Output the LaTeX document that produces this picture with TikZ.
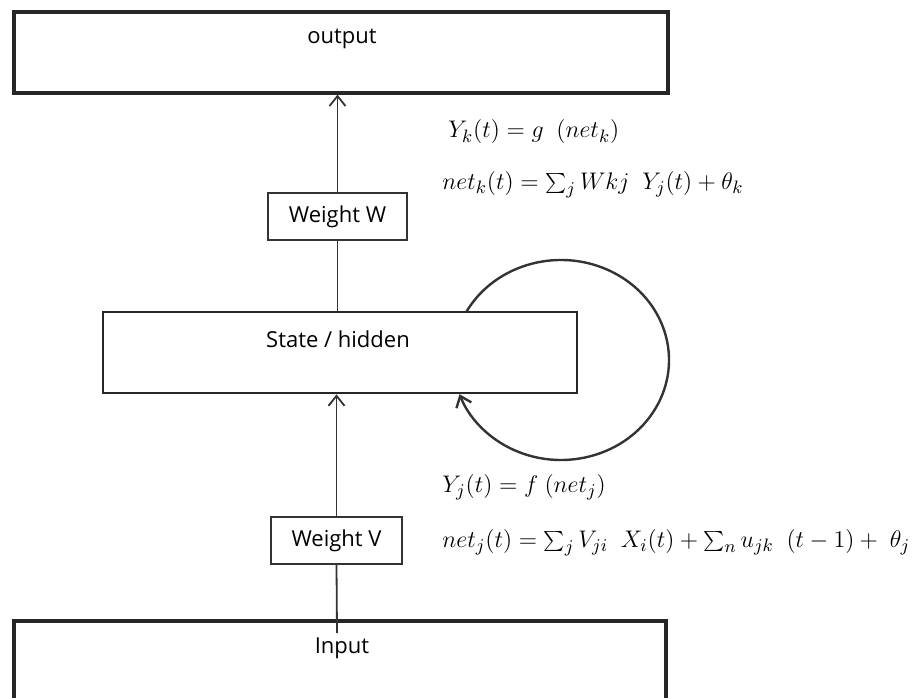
\documentclass[tikz,border=0pt]{standalone}
\usepackage{fontspec}
\setmainfont{Open Sans}
\usetikzlibrary{arrows.meta, positioning, calc}

\begin{document}
\begin{tikzpicture}[x=0.5pt, y=0.5pt,
    layer/.style={draw=black!85, line width=1.4pt, minimum height=40.5pt, inner sep=0pt},
    weight/.style={draw=black!80, line width=0.9pt, minimum height=23.5pt, inner sep=0pt, font=\fontsize{11}{13}\selectfont},
    lbl/.style={inner sep=0pt, font=\fontsize{11}{13}\selectfont},
    eq/.style={anchor=west, inner sep=0pt, font=\fontsize{12.3}{14}\selectfont},
    conn/.style={draw=black!80, line width=0.9pt},
    >={Straight Barb[length=5pt,width=8pt]}]
\useasboundingbox (0,0) rectangle (922,697);

% layers
\node[layer, line width=1.6pt, minimum width=327pt] (output) at (341,644.5) {};
\node[lbl] (outtext) at (342,658) {output};

\node[layer, minimum width=237pt] (state) at (340,344.5) {};
\node[lbl] (statetext) at (338,358) {State / hidden};

\node[layer, line width=1.6pt, minimum width=326pt, minimum height=100pt] (input) at (340,-24) {};
\node[lbl] (intext) at (342,49) {Input};

% weights
\node[weight, minimum width=69.5pt] (ww) at (337.5,480.5) {Weight W};
\node[weight, minimum width=65.5pt] (wv) at (336.5,156.5) {Weight V};

% connections
\coordinate (instart) at (337,64);
\draw[conn] (instart) -- (wv.south);
\draw[conn, ->] (wv.north) -- (wv.north |- state.south);
\draw[conn] (ww.south |- state.north) -- (ww.south);
\draw[conn, ->] (ww.north) -- (ww.north |- output.south);

% recurrent loop
\coordinate (loopc) at (561,337);
\draw[conn, line width=1.2pt, ->] ($(loopc)+(151:54pt and 50pt)$) arc[start angle=151, end angle=-160, x radius=54pt, y radius=50pt];

% equations
\node[eq] (yk) at (448,565) {$Y_k(t) = g\ \ (net_k)$};
\node[eq] (netk) at (442,512) {$net_k(t) = \sum_j Wkj\ \ Y_j(t) + \theta_k$};
\node[eq] (yj) at (442,210) {$Y_j(t) = f\ \big(net_j\big)$};
\node[eq] (netj) at (442,154) {$net_j(t) = \sum_j V_{ji}\ \ X_i(t) + \sum_n u_{jk}\ \ (t-1) + \ \theta_j$};
\end{tikzpicture}
\end{document}
